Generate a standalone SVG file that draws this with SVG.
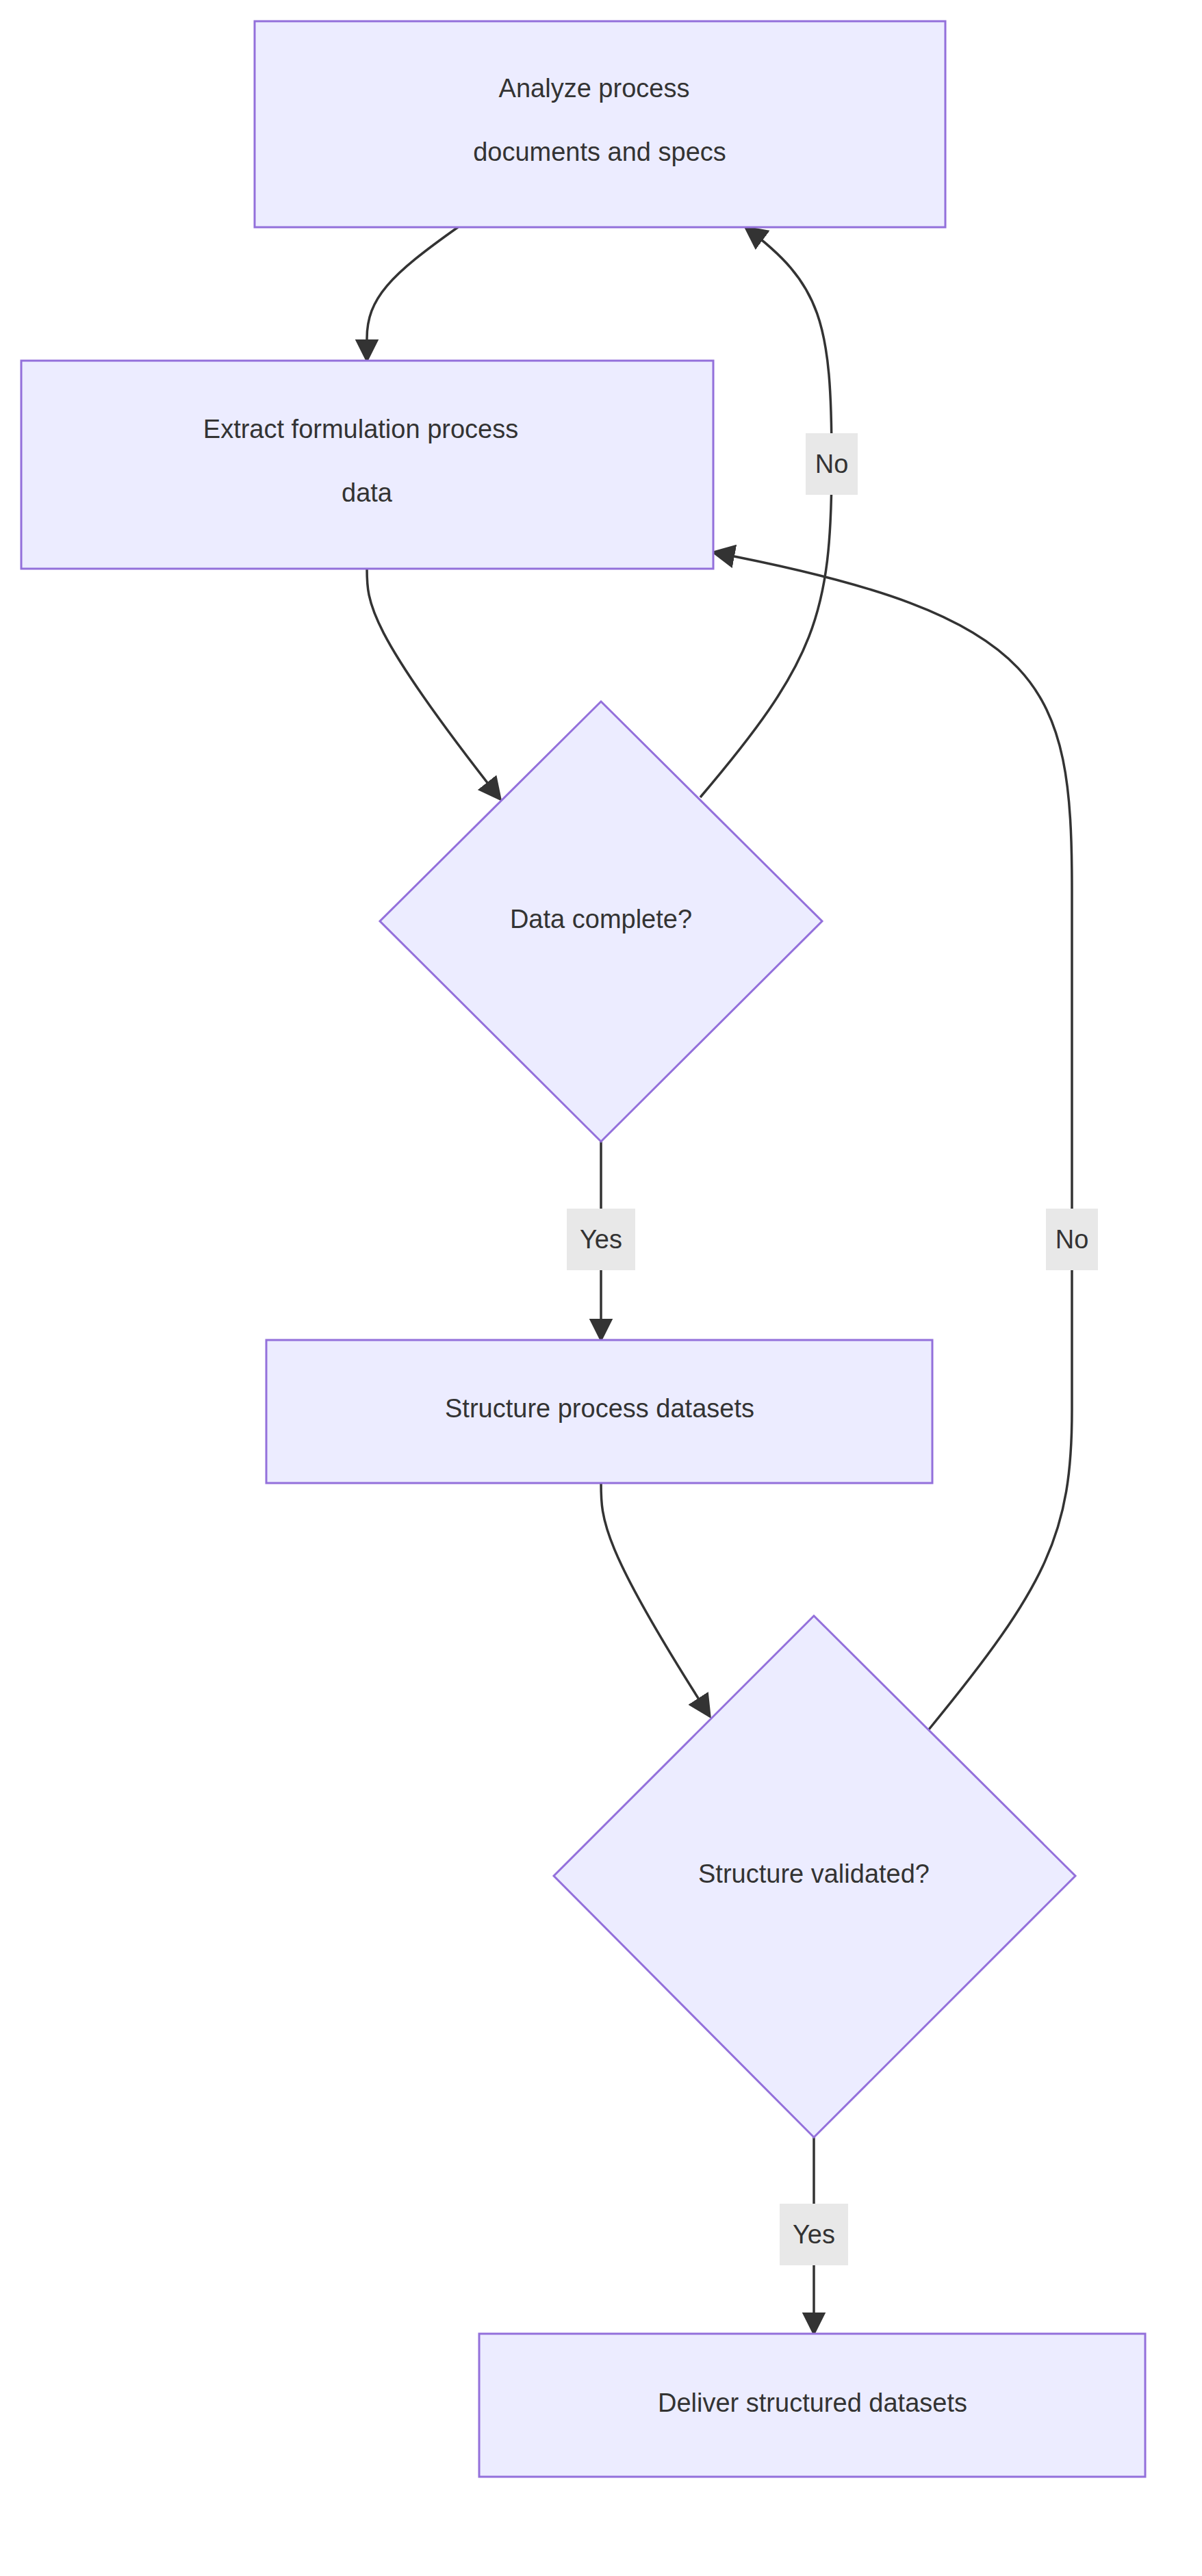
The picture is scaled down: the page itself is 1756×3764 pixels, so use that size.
<svg xmlns="http://www.w3.org/2000/svg" width="1756" height="3764" viewBox="0 0 1756 3764">
<style>
.n{fill:#ECECFF;stroke:#9370DB;stroke-width:3}
.t{font-family:"Liberation Sans",Arial,sans-serif;font-size:38px;fill:#333;text-anchor:middle;dominant-baseline:central}
.e{fill:none;stroke:#333;stroke-width:3.5}
.lb{fill:#e8e8e8}
</style>
<defs><marker id="ah" viewBox="0 0 10 10" refX="9" refY="5" markerWidth="9" markerHeight="9" markerUnits="userSpaceOnUse" orient="auto"><path d="M0,0L10,5L0,10z" fill="#333"/></marker>
<marker id="a" viewBox="0 0 10 10" refX="9" refY="5" markerWidth="10" markerHeight="10" orient="auto" markerUnits="strokeWidth"><path d="M0,0L10,5L0,10z" fill="#333"/></marker></defs>
<rect width="1756" height="3764" fill="#fff"/>
<g id="edges">
<path class="e" marker-end="url(#a)" d="M669,332 C570,402 536,436 536,495 L536,527"/>
<path class="e" marker-end="url(#a)" d="M536,831 C536,880 536,920 731,1168"/>
<path class="e" marker-end="url(#a)" d="M1023,1165 C1190,968 1215,900 1215,676 C1215,470 1200,415 1089,332"/>
<path class="e" marker-end="url(#a)" d="M878,1668 L878,1958"/>
<path class="e" marker-end="url(#a)" d="M878,2167 C878,2220 878,2260 1037,2508"/>
<path class="e" marker-end="url(#a)" d="M1357,2527 C1530,2316 1566,2240 1566,2060 L1566,1300 C1566,1000 1530,900 1042,807"/>
<path class="e" marker-end="url(#a)" d="M1189,3123 L1189,3410"/>
<rect class="lb" x="1177" y="633" width="76" height="90"/><text class="t" x="1215" y="678">No</text>
<rect class="lb" x="828" y="1766" width="100" height="90"/><text class="t" x="878" y="1811">Yes</text>
<rect class="lb" x="1528" y="1766" width="76" height="90"/><text class="t" x="1566" y="1811">No</text>
<rect class="lb" x="1139" y="3220" width="100" height="90"/><text class="t" x="1189" y="3265">Yes</text>
</g>
<g id="A"><rect class="n" x="372" y="31" width="1009" height="301"/><text class="t" x="868" y="129">Analyze process</text><text class="t" x="876" y="222">documents and specs</text></g>
<g id="B"><rect class="n" x="31" y="527" width="1011" height="304"/><text class="t" x="527" y="627">Extract formulation process</text><text class="t" x="536" y="720">data</text></g>
<g id="C"><polygon class="n" points="878,1025 1201,1346 878,1668 555,1346"/><text class="t" x="878" y="1343">Data complete?</text></g>
<g id="D"><rect class="n" x="389" y="1958" width="973" height="209"/><text class="t" x="876" y="2058">Structure process datasets</text></g>
<g id="E"><polygon class="n" points="1189,2361 1571,2741 1189,3123 809,2741"/><text class="t" x="1189" y="2738">Structure validated?</text></g>
<g id="F"><rect class="n" x="700" y="3410" width="973" height="209"/><text class="t" x="1187" y="3511">Deliver structured datasets</text></g>
</svg>
